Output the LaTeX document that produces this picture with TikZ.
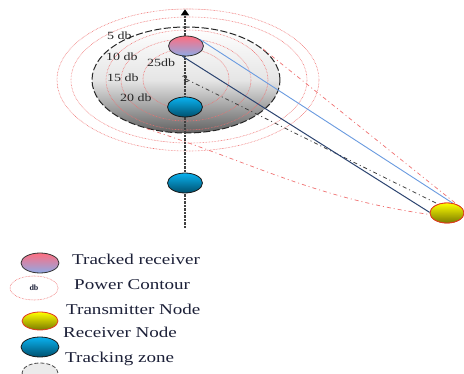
\documentclass[tikz,border=0pt]{standalone}
\usepackage{fontspec}
\setmainfont{Liberation Serif}
\newfontfamily\lgfont[FakeStretch=1.27]{Liberation Serif}
\usetikzlibrary{shapes.geometric,arrows.meta,calc}
\definecolor{trpink}{HTML}{FF6E80}
\definecolor{trblue}{HTML}{8EAAE6}
\definecolor{rxtop}{HTML}{0AB2F0}
\definecolor{rxbot}{HTML}{00506E}
\definecolor{txred}{HTML}{E03A20}
\definecolor{txbot}{HTML}{7A7A00}
\definecolor{legcol}{HTML}{1C2038}
\definecolor{lnblue}{HTML}{6A9BE0}
\definecolor{lnnavy}{HTML}{2C4470}
\definecolor{ctred}{HTML}{F07070}
\begin{document}
\begin{tikzpicture}[x=1pt,y=-1pt,
  ovalnode/.style={ellipse, inner sep=0pt, minimum width=35pt, minimum height=20pt, line width=0.8pt},
  trackednode/.style={ovalnode, draw=black!80, top color=trpink, bottom color=trblue},
  rxnode/.style={ovalnode, draw=black!90, top color=rxtop, bottom color=rxbot},
  txnode/.style={ovalnode, draw=txred, top color=yellow, bottom color=txbot, minimum width=34pt},
  contour/.style={draw=ctred, line width=0.6pt, dash pattern=on 0.6pt off 0.9pt},
  dblabel/.style={font=\lgfont\fontsize{11}{11}\selectfont, text=black!85, inner sep=0pt, anchor=base west},
  legtext/.style={font=\lgfont\fontsize{15}{15}\selectfont, text=legcol, anchor=base west, inner sep=0pt},
  axisline/.style={line width=1.8pt, black!75, dash pattern=on 0.7pt off 0.7pt},
  zonestyle/.style={ellipse, inner sep=0pt, draw=black!85, line width=1pt, dash pattern=on 7pt off 2.5pt},
  reddashdot/.style={draw=ctred, line width=0.7pt, dash pattern=on 4pt off 3pt on 1pt off 3pt},
  blackdashdot/.style={draw=black!75, line width=0.8pt, dash pattern=on 4pt off 3pt on 1pt off 3pt}
]
\clip (0,0) rectangle (464,374);
\fill[white] (0,0) rectangle (464,374);

% tracking zone
\node[zonestyle, minimum width=188pt, minimum height=106pt,
      top color=white, bottom color=black!62, middle color=black!10] (zone) at (186,80) {};

% power contours
\draw[contour] (188,80) ellipse [x radius=131, y radius=71];
\draw[contour] (189,80) ellipse [x radius=118, y radius=63];
\draw[contour] (187,80) ellipse [x radius=81, y radius=50];
\draw[contour] (186,80) ellipse [x radius=65, y radius=41];
\draw[contour] (186,79) ellipse [x radius=43, y radius=30];

% contour labels
\node[dblabel] (l5) at (107,40) {5 db};
\node[dblabel] (l10) at (106,61) {10 db};
\node[dblabel] (l15) at (107,82) {15 db};
\node[dblabel] (l20) at (120,102) {20 db};
\node[dblabel] (l25) at (147,67) {25db};

% axis
\coordinate (axbot) at (185,228);
\coordinate (axtop) at (185,9);
\draw[axisline] (axbot) -- (185,16);
\node[isosceles triangle, isosceles triangle apex angle=70, shape border rotate=90, fill=black, inner sep=0pt, minimum height=6pt, minimum width=8pt, anchor=apex] (arrowhead) at (axtop) {};

% source point
\coordinate (src) at (186,79);
\draw[black!80, line width=0.8pt] (182.5,76.5) .. controls (185,74) and (188.5,76.5) .. (185.5,78.5) .. controls (182.5,80.5) and (185,83) .. (188.5,81);

% nodes
\node[txnode] (tx) at (447,213) {};

% connectors
\draw[reddashdot] (zone.22) -- (tx.40);
\draw[reddashdot] (zone.231) to[out=-18, in=172] (tx.185);
\draw[blackdashdot] (src) -- (tx.135);

\node[trackednode] (tr) at (186,46) {};
\node[rxnode] (rx1) at (185,107) {};
\node[rxnode] (rx2) at (185,183) {};

\draw[lnblue, line width=0.9pt] (tr.25) -- (tx.60);
\draw[lnnavy, line width=1pt] (tr.250) -- (tx.178);
\node[txnode] at (tx) {};

% legend
\node[trackednode, minimum width=38pt] (k1) at (40,263) {};
\node[legtext] (t1) at (72,265) {Tracked receiver};
\node[ellipse, contour, minimum width=48pt, minimum height=24pt, inner sep=0pt, font=\bfseries\fontsize{8}{8}\selectfont, text=legcol] (k2) at (34,288) {db};
\node[legtext] (t2) at (74,290) {Power Contour};
\node[txnode, minimum width=36pt, minimum height=18pt] (k3) at (40,321) {};
\node[legtext] (t3) at (66,315) {Transmitter Node};
\node[rxnode, minimum width=38pt] (k4) at (40,347) {};
\node[legtext] (t4) at (63,338) {Receiver Node};
\node[ellipse, inner sep=0pt, minimum width=36pt, minimum height=20pt, fill=black!8, draw=black!70, line width=0.8pt, dash pattern=on 4pt off 2pt] (k5) at (40,373) {};
\node[legtext] (t5) at (65,363) {Tracking zone};
\end{tikzpicture}
\end{document}
